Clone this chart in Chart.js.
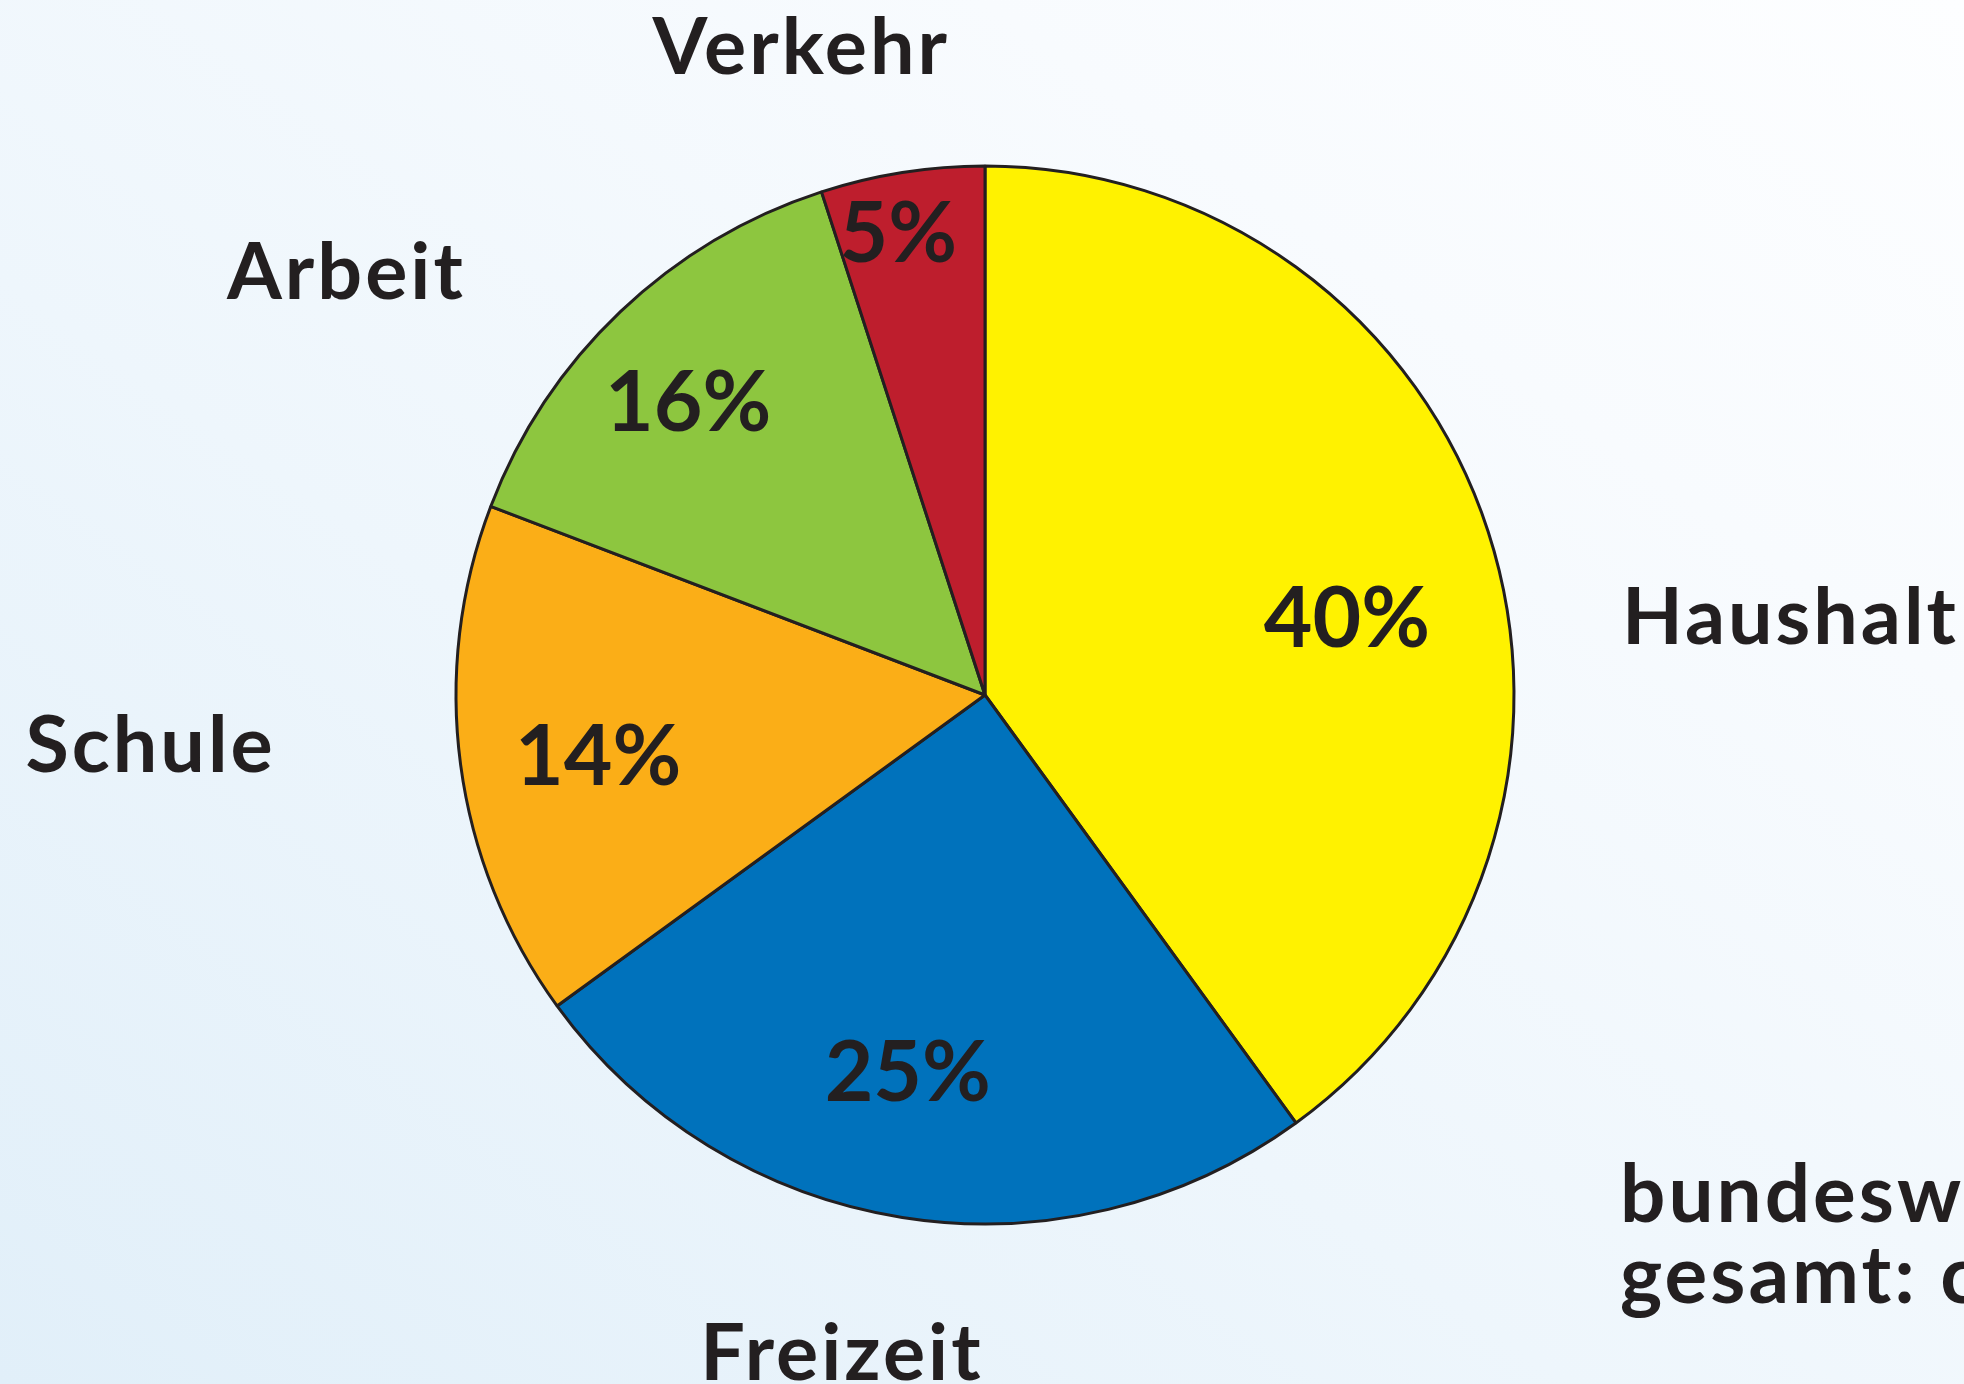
<!DOCTYPE html>
<html>
<head>
<meta charset="utf-8">
<title>Unfälle nach Bereich</title>
<script src="https://cdn.jsdelivr.net/npm/chart.js@4.4.1/dist/chart.umd.min.js"></script>
<style>
    html, body {
        margin: 0;
        padding: 0;
        overflow: hidden;
    }
    body {
        width: 1964px;
        height: 1384px;
        background: linear-gradient(to top right, #e1eff9 0%, #eef6fc 40%, #f8fbfe 75%, #fdfeff 100%);
    }
    canvas {
        display: block;
    }
</style>
</head>
<body>
<canvas id="pie-chart" width="1964" height="1384"></canvas>
<script>
// Bereiche, im Uhrzeigersinn ab 12 Uhr
const categories = ["Haushalt", "Freizeit", "Schule", "Arbeit", "Verkehr"];
// Anteile so wie die Tortenstücke im Bild gezeichnet sind
const shares = [40, 25, 15.8, 14.2, 5];
// Beschriftungen so wie sie im Bild stehen (Schule/Arbeit passen nicht ganz zu den Stücken)
const shareLabels = ["40%", "25%", "14%", "16%", "5%"];
const sliceColors = ["#fff200", "#0072bc", "#fbae17", "#8dc63f", "#be1e2d"];
const footnote = ["bundesweit", "gesamt: ca."];

const textColor = "#231f20";
const fontFamily = "Lato, 'Open Sans', 'DejaVu Sans', sans-serif";

// label placement: radius as fraction of pie radius, angle nudge in degrees
const pctRadius = [0.70, 0.726, 0.74, 0.79, 0.89];
const pctShift = [5.8, 2.6, -1.2, -1.7, -1.6];
const catRadius = [1.53, 1.27, 1.58, 1.45, 1.276];
const catShift = [12.4, 3.3, 4.2, -12.8, -6.8];

const labelPlugin = {
    id: "sliceLabels",
    afterDraw(chart) {
        const ctx = chart.ctx;
        const arcs = chart.getDatasetMeta(0).data;
        ctx.save();
        ctx.fillStyle = textColor;
        ctx.textAlign = "center";
        ctx.textBaseline = "alphabetic";

        arcs.forEach((arc, i) => {
            const p = arc.getProps(["x", "y", "startAngle", "endAngle", "outerRadius"], true);
            const mid = (p.startAngle + p.endAngle) / 2;

            // percent inside the slice
            let a = mid + pctShift[i] * Math.PI / 180;
            let r = p.outerRadius * pctRadius[i];
            ctx.letterSpacing = "0px";
            ctx.font = "bold 84px " + fontFamily;
            ctx.fillText(shareLabels[i], p.x + r * Math.cos(a), p.y + r * Math.sin(a) + 0.36 * 84);

            // category name outside
            a = mid + catShift[i] * Math.PI / 180;
            r = p.outerRadius * catRadius[i];
            ctx.letterSpacing = "3px";
            ctx.font = "bold 79px " + fontFamily;
            ctx.fillText(categories[i], p.x + r * Math.cos(a), p.y + r * Math.sin(a) + 0.36 * 79);
        });

        // footnote, runs off the right edge like in the original
        ctx.textAlign = "left";
        ctx.letterSpacing = "3px";
        ctx.font = "bold 80px " + fontFamily;
        ctx.fillText(footnote[0], 1620, 1222);
        ctx.fillText(footnote[1], 1620, 1303);
        ctx.restore();
    }
};

const pieChart = new Chart(document.getElementById("pie-chart").getContext("2d"), {
    type: "pie",
    data: {
        labels: categories,
        datasets: [{
            data: shares,
            backgroundColor: sliceColors,
            borderColor: "#231f20",
            borderWidth: 3,
            hoverBorderWidth: 3,
            hoverOffset: 0,
            offset: 0
        }]
    },
    options: {
        responsive: false,
        animation: false,
        radius: 529,
        layout: {
            padding: { left: 453, right: 447, top: 163, bottom: 157 }
        },
        plugins: {
            legend: { display: false },
            tooltip: { enabled: false }
        },
        events: []
    },
    plugins: [labelPlugin]
});
</script>
</body>
</html>
